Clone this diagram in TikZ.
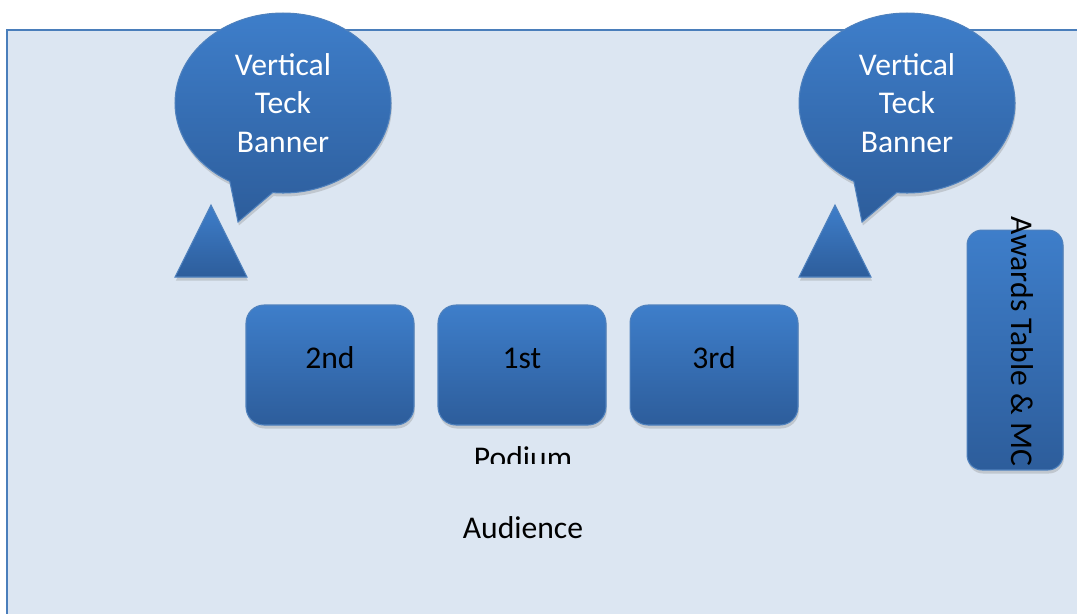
\documentclass[tikz,border=0pt]{standalone}
\usepackage{fontspec}
\setmainfont{Carlito}
\usetikzlibrary{positioning,shapes.callouts,shadows}
\definecolor{roomfill}{RGB}{220,230,242}
\definecolor{roomline}{RGB}{74,126,187}
\definecolor{boxtop}{RGB}{62,126,202}
\definecolor{boxbot}{RGB}{45,93,155}
\definecolor{boxline}{RGB}{79,129,189}
\begin{document}
\begin{tikzpicture}[x=0.02cm,y=-0.02cm,
	every node/.style={font=\fontsize{18}{22}\selectfont},
	blue box/.style={top color=boxtop,bottom color=boxbot,draw=boxline,line width=0.6pt,
		drop shadow={shadow xshift=0.5pt,shadow yshift=-2pt,opacity=0.3}},
	banner/.style={blue box,ellipse callout,minimum width=4.32cm,minimum height=3.6cm,
		callout pointer arc=24,text=white,align=center,inner sep=0pt},
	stand/.style={blue box},
	place/.style={blue box,rounded corners=0.36cm,minimum width=3.36cm,minimum height=2.4cm,
		text height=0.4cm,text depth=0.28cm},
	tablebox/.style={blue box,rounded corners=0.3cm,minimum width=1.92cm,minimum height=4.8cm}]
	\useasboundingbox (0,0) rectangle (1077,613);
	\clip (0,0) rectangle (1077,613);
	% room
	\draw [fill=roomfill,draw=roomline,line width=1.2pt] (7,30) rectangle (1110,650);
	% banners
	\node [banner,callout absolute pointer={(238,222)}] (bannerL) at (283,103) {Vertical\\Teck\\Banner};
	\node [banner,callout absolute pointer={(862,222)}] (bannerR) at (907,103) {Vertical\\Teck\\Banner};
	\path [stand] (175,277) -- (211,205) -- (247,277) -- cycle;
	\path [stand] (799,277) -- (835,205) -- (871,277) -- cycle;
	% podium
	\node [place] (first) at (522,365) {1st};
	\node [place,left=0.46cm of first] (second) {2nd};
	\node [place,right=0.46cm of first] (third) {3rd};
	\begin{scope}
		\clip (400,400) rectangle (650,463);
		\node (podium) at (523,458) {Podium};
	\end{scope}
	\node (audience) at (523,528) {Audience};
	% awards table
	\node [tablebox] (awards) at (1015,350) {};
	\node [rotate=-90] (awardstext) at (1022,341) {Awards Table \& MC};
\end{tikzpicture}
\end{document}
